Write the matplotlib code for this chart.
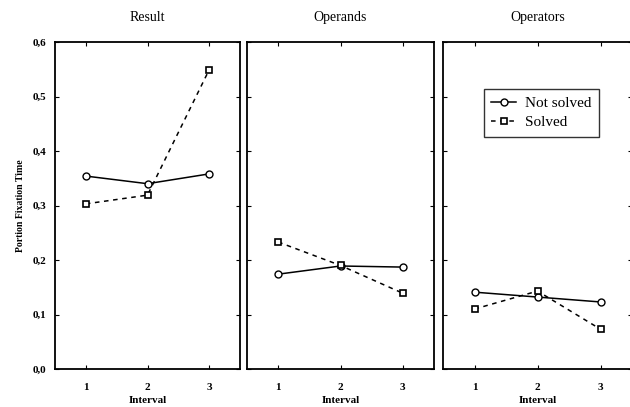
import matplotlib
matplotlib.use("Agg")
import matplotlib.pyplot as plt

plt.rcParams['font.family'] = ['Liberation Serif', 'DejaVu Serif']

intervals = [1, 2, 3]
panels = ["Result", "Operands", "Operators"]
not_solved = {
    "Result": [0.354, 0.340, 0.358],
    "Operands": [0.174, 0.189, 0.187],
    "Operators": [0.141, 0.132, 0.123],
}
solved = {
    "Result": [0.303, 0.319, 0.549],
    "Operands": [0.233, 0.190, 0.139],
    "Operators": [0.110, 0.143, 0.073],
}
yticks = [0.0, 0.1, 0.2, 0.3, 0.4, 0.5, 0.6]
ytick_labels = ["0,0", "0,1", "0,2", "0,3", "0,4", "0,5", "0,6"]

fig = plt.figure(figsize=(6.30, 4.07), dpi=100)
lefts = [55/630, 247/630, 443/630]
widths = [185/630, 187/630, 189/630]
bottom = 1 - 369/407
height = (369 - 42)/407

for i, name in enumerate(panels):
    ax = fig.add_axes([lefts[i], bottom, widths[i], height])
    ax.plot(intervals, not_solved[name], '-', color='black', lw=1.1,
            marker='o', mfc='white', mec='black', ms=5, mew=1.0, label='Not solved')
    ax.plot(intervals, solved[name], '--', color='black', lw=1.1, dashes=(3, 3),
            marker='s', mfc='white', mec='black', ms=5, mew=1.2, label='Solved')
    ax.set_xlim(0.5, 3.5)
    ax.set_ylim(0, 0.6)
    ax.set_xticks(intervals)
    ax.set_xticklabels([str(v) for v in intervals], fontsize=8, fontweight='bold')
    ax.set_yticks(yticks)
    if i == 0:
        ax.set_yticklabels(ytick_labels, fontsize=8, fontweight='bold')
        ax.set_ylabel("Portion Fixation Time", fontsize=7, fontweight='bold', labelpad=6)
    else:
        ax.set_yticklabels([])
    ax.tick_params(axis='x', direction='in', length=3, width=0.8, top=True, pad=10)
    ax.tick_params(axis='y', direction='in', length=3, width=0.8, right=True, pad=6)
    ax.set_xlabel("Interval", fontsize=8, fontweight='bold', labelpad=3)
    ax.set_title(name, fontsize=10, pad=15)
    for s in ax.spines.values():
        s.set_linewidth(1.3)
    if i == 2:
        leg = ax.legend(loc='upper left', bbox_to_anchor=(0.175, 0.88), fontsize=11,
                        frameon=True, fancybox=False, edgecolor='black',
                        handlelength=1.6, borderpad=0.5, labelspacing=0.35,
                        handletextpad=0.6)
        leg.get_frame().set_linewidth(1.0)

fig.savefig("out.png", dpi=100)
